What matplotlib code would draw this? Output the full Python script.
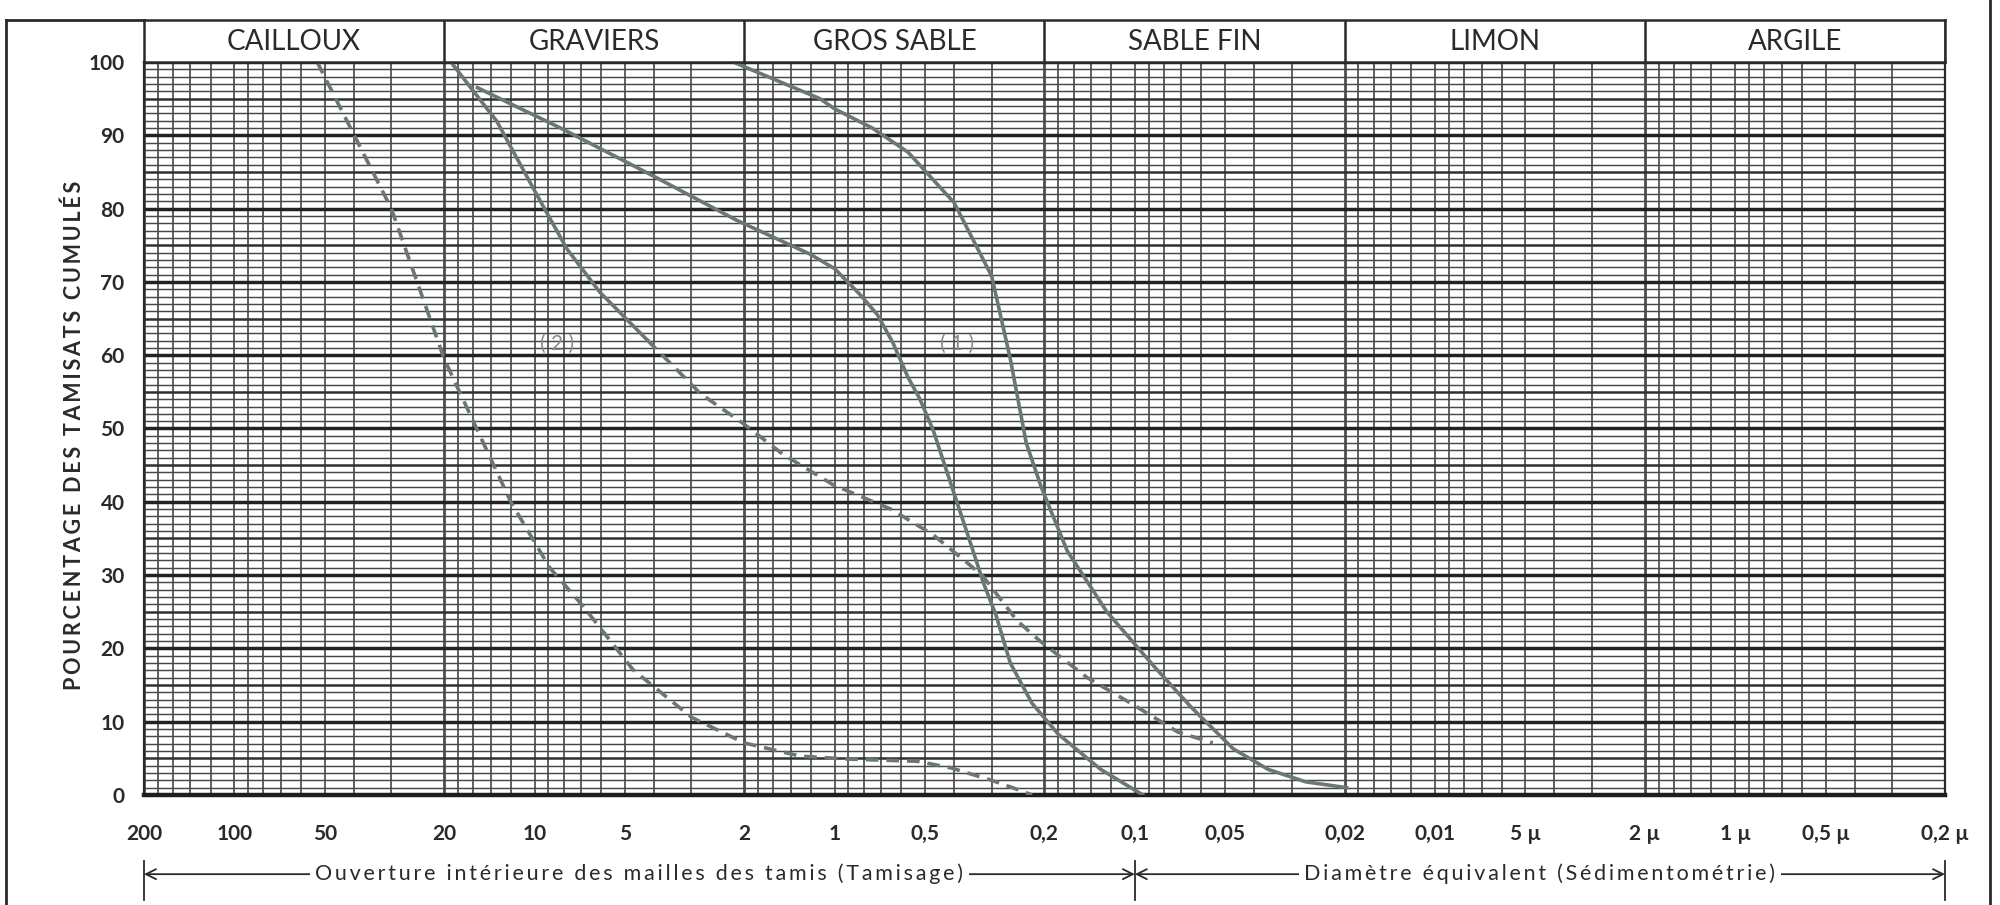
import numpy as np
import matplotlib
matplotlib.use('Agg')
import matplotlib.pyplot as plt
from matplotlib.lines import Line2D
from matplotlib.transforms import blended_transform_factory

# ---------- classes granulométriques (bornes en mm) ----------
CLASSES = ['CAILLOUX', 'GRAVIERS', 'GROS SABLE', 'SABLE FIN', 'LIMON', 'ARGILE']
BORNES = [200, 20, 2, 0.2, 0.02, 0.002, 0.0002]

TICKS = [200, 100, 50, 20, 10, 5, 2, 1, 0.5, 0.2, 0.1, 0.05, 0.02, 0.01,
         0.005, 0.002, 0.001, 0.0005, 0.0002]
TICK_LABELS = ['200', '100', '50', '20', '10', '5', '2', '1', '0,5', '0,2',
               '0,1', '0,05', '0,02', '0,01', '5 µ', '2 µ', '1 µ', '0,5 µ', '0,2 µ']
Y_TICKS = list(range(0, 101, 10))

# ---------- courbes granulométriques (taille en mm, % tamisats cumulés) ----------
taille_A = [53, 30, 20, 12, 8.9, 6.9, 4.7, 3.0, 2.0, 1.3, 0.9, 0.53, 0.41, 0.30, 0.24, 0.22]
pct_A = [100, 80, 59.5, 40, 31, 25.8, 17.1, 10.6, 7.1, 5.3, 4.9, 4.6, 3.7, 2.0, 0.6, 0]

taille_B = [19.0, 13.35, 9.8, 7.8, 6.06, 4.22, 3.1, 2.81, 2.02, 1.49, 1.01, 0.65,
            0.47, 0.36, 0.32, 0.247, 0.207, 0.144, 0.101, 0.072, 0.055]
pct_B = [100, 91.9, 81.8, 74.5, 68.6, 62.1, 56.6, 54.8, 50.7, 46.5, 42.3, 39.0,
         35.5, 31.6, 29.8, 23.8, 21.0, 16.0, 12.3, 8.6, 7.1]
B_TRAIT_PLEIN = 6          # les 6 premiers points en trait plein, la suite en tirets

taille_C = [15.5, 8.2, 4.0, 2.12, 1.21, 1.0, 0.82, 0.72, 0.64, 0.57, 0.52, 0.47,
            0.40, 0.355, 0.32, 0.29, 0.26, 0.22, 0.18, 0.13, 0.094]
pct_C = [96.5, 91, 84.4, 78.4, 73.8, 71.8, 68.2, 65.5, 61.7, 57, 54, 49.8,
         41.1, 34.7, 29, 24.5, 18, 12.5, 8.3, 3.5, 0]

taille_D = [2.18, 1.12, 1.0, 0.75, 0.57, 0.40, 0.30, 0.26, 0.23, 0.205, 0.168,
            0.124, 0.087, 0.065, 0.047, 0.036, 0.027, 0.0197]
pct_D = [100, 95, 93.6, 91, 87.7, 80.8, 70.8, 59.5, 48, 42, 33.3,
         25, 17.7, 12, 6.3, 3.5, 1.8, 1.0]

# repères (1) et (2) : (taille, %)
REPERES = [('( 1 )', 0.39, 61.5), ('( 2 )', 8.4, 61.5)]

ENCRE = '#2a2a2a'
TRAME = '#4d4d4d'
COURBE = '#6a7872'
POLICE = ['Lato', 'DejaVu Sans']


def espace(s):
    """texte lettre-espacée (espace fine entre les caractères)"""
    return '\u2009'.join(s)


fig = plt.figure(figsize=(20, 9.05), dpi=100)
W, H = 2000, 905
x0, x1 = 144, 1945          # px : 200 mm -> 0,2 µ
y0, y100 = 795, 62          # px : 0 % -> 100 %
ax = fig.add_axes([x0 / W, 1 - y0 / H, (x1 - x0) / W, (y0 - y100) / H])
ax.set_xscale('log')
ax.set_xlim(200, 0.0002)
ax.set_ylim(0, 100)

# ---------- trame du papier ----------
mult = [1, 1.2, 1.4, 1.6, 1.8, 2, 3, 4, 5, 6, 7, 8, 9]
for k in range(-4, 3):
    for m in mult:
        v = m * 10.0 ** k
        if 0.0002 <= v <= 200:
            lw = 2.0 if v in BORNES else 1.25
            ax.axvline(v, color=TRAME, lw=lw, zorder=1)
for p in range(0, 101):
    if p % 10 == 0:
        lw, c = 2.5, '#222222'
    elif p % 5 == 0:
        lw, c = 1.8, '#303030'
    else:
        lw, c = 1.05, '#474747'
    ax.axhline(p, color=c, lw=lw, zorder=1)

# ---------- courbes ----------
ax.plot(taille_A, pct_A, color=COURBE, lw=2.6, dashes=(3.5, 2.2), zorder=3)
ax.plot(taille_B[:B_TRAIT_PLEIN], pct_B[:B_TRAIT_PLEIN], color=COURBE, lw=2.6, zorder=3)
ax.plot(taille_B[B_TRAIT_PLEIN - 1:], pct_B[B_TRAIT_PLEIN - 1:], color=COURBE, lw=2.6,
        dashes=(3.5, 2.2), zorder=3)
ax.plot(taille_C, pct_C, color=COURBE, lw=2.6, zorder=3)
ax.plot(taille_D, pct_D, color=COURBE, lw=2.6, zorder=3)
for txt, xv, yv in REPERES:
    ax.text(xv, yv, txt, color='#838d87', fontsize=15, family=POLICE,
            ha='center', va='center', zorder=4)

# ---------- axes ----------
ax.set_xticks(TICKS)
ax.set_xticklabels(TICK_LABELS)
ax.xaxis.set_minor_locator(matplotlib.ticker.NullLocator())
ax.set_yticks(Y_TICKS)
ax.tick_params(axis='both', length=0, colors=ENCRE, labelsize=15)
ax.tick_params(axis='x', pad=21)
ax.tick_params(axis='y', pad=14)
for lab in ax.get_xticklabels() + ax.get_yticklabels():
    lab.set_family(POLICE)
    lab.set_fontweight('bold')
for s in ('left', 'right', 'top'):
    ax.spines[s].set_linewidth(1.6)
    ax.spines[s].set_color(ENCRE)
ax.spines['bottom'].set_linewidth(3.2)
ax.spines['bottom'].set_color('#1e1e1e')
ax.text(-0.039, 0.49, espace('POURCENTAGE DES TAMISATS CUMULÉS'), transform=ax.transAxes,
        rotation=90, ha='center', va='center', fontsize=15.5, fontweight='bold',
        family=POLICE, color=ENCRE)

# ---------- bandeau des classes ----------
hx = fig.add_axes([x0 / W, 1 - y100 / H, (x1 - x0) / W, (y100 - 20) / H], sharex=ax)
hx.set_ylim(0, 1)
hx.tick_params(length=0, labelbottom=False, labelleft=False)
for s in hx.spines.values():
    s.set_linewidth(1.8)
    s.set_color(ENCRE)
for nom, a, b in zip(CLASSES, BORNES[:-1], BORNES[1:]):
    hx.axvline(b, color=ENCRE, lw=1.8)
    hx.text(np.sqrt(a * b), 0.48, nom, ha='center', va='center', fontsize=20,
            family=POLICE, color=ENCRE)

# ---------- flèches Tamisage / Sédimentométrie ----------
tr = blended_transform_factory(ax.transData, ax.transAxes)
ya = -0.108
for xa, xb, lib in [(200, 0.1, 'Ouverture intérieure des mailles des tamis (Tamisage)'),
                    (0.1, 0.0002, 'Diamètre équivalent (Sédimentométrie)')]:
    ax.annotate('', xy=(xb, ya), xytext=(xa, ya), xycoords=tr, textcoords=tr,
                arrowprops=dict(arrowstyle='<->', color=ENCRE, lw=1.3,
                                mutation_scale=18, shrinkA=0, shrinkB=0),
                annotation_clip=False)
    ax.text(np.sqrt(xa * xb), ya, espace(lib), transform=tr, ha='center', va='center',
            fontsize=15.5, family=POLICE, color=ENCRE,
            bbox=dict(boxstyle='square,pad=0.25', fc='white', ec='none'))
for xv in (200, 0.1, 0.0002):
    ax.plot([xv, xv], [-0.09, -0.143], transform=tr, color=ENCRE, lw=1.3, clip_on=False)

# ---------- cadre de la page ----------
fig.add_artist(Line2D([0.003, 0.003], [0, 0.978], transform=fig.transFigure, color=ENCRE, lw=2))
fig.add_artist(Line2D([0.995, 0.995], [0, 1], transform=fig.transFigure, color=ENCRE, lw=2))
fig.add_artist(Line2D([0.003, x0 / W], [0.978, 0.978], transform=fig.transFigure, color=ENCRE, lw=2))

fig.savefig('out.png', dpi=100, facecolor='white')
